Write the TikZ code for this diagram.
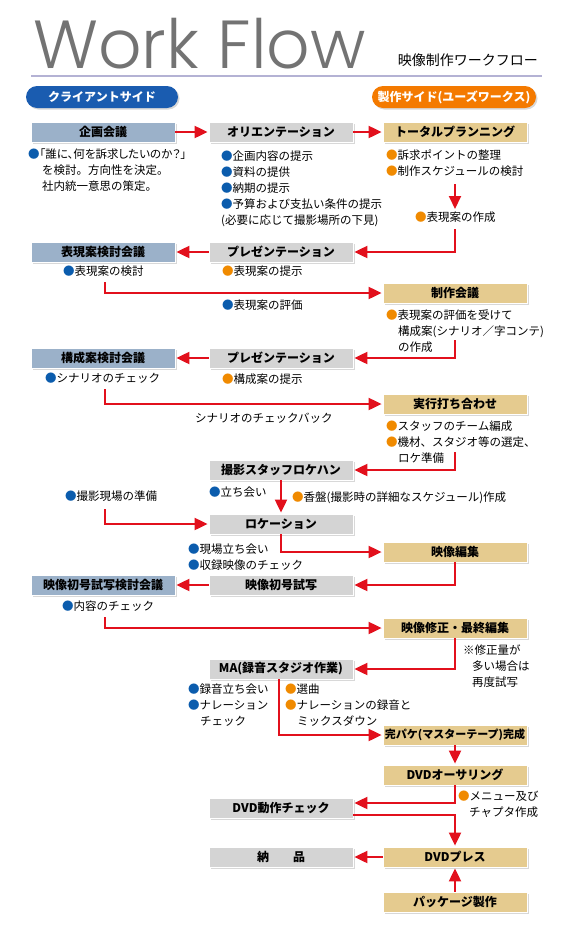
\documentclass[tikz,border=0pt]{standalone}
\usepackage{fontspec}
\setmainfont{Noto Sans CJK JP}
\newfontfamily\titlefont{Poppins Light}
\usetikzlibrary{arrows.meta,shadows}

\definecolor{clientfill}{HTML}{9BB1C9}
\definecolor{midfill}{HTML}{D4D4D4}
\definecolor{prodfill}{HTML}{E5CB8F}
\definecolor{flowred}{HTML}{E2101C}
\definecolor{cliblue}{HTML}{0B5CAD}
\definecolor{proorange}{HTML}{F08A00}
\definecolor{rulelav}{HTML}{B4B2D4}
\definecolor{pillblue}{HTML}{1A5CB0}
\definecolor{pillorange}{HTML}{F47A00}

\newcommand\clidot{{\color{cliblue}●}}
\newcommand\prodot{{\color{proorange}●}}

\tikzset{
  box/.style={minimum width=144pt, minimum height=20pt, inner sep=0pt,
    draw=white, line width=0.8pt, font=\bfseries\fontsize{12}{12}\selectfont,
    drop shadow={shadow xshift=1.5pt, shadow yshift=-1.5pt, fill=black!30}},
  clientbox/.style={box, fill=clientfill},
  midbox/.style={box, fill=midfill},
  prodbox/.style={box, fill=prodfill},
  note/.style={anchor=north west, inner sep=0pt, align=left,
    font=\fontsize{11.5}{16}\selectfont},
  pill/.style={rounded corners=11pt, minimum height=22pt, inner sep=0pt,
    text=white, font=\bfseries\fontsize{12}{12}\selectfont,
    drop shadow={shadow xshift=1.5pt, shadow yshift=-1.5pt, fill=black!30}},
  flow/.style={draw=flowred, line width=2pt, -{Triangle[length=13pt,width=12pt]}, shorten >=1pt}
}

\begin{document}
\begin{tikzpicture}[x=1pt,y=-1pt]
\useasboundingbox[fill=white] (0,0) rectangle (563,935);

% header
\node[anchor=base west, inner sep=0pt, text depth=0pt, text=black!55, font=\titlefont\fontsize{68}{68}\selectfont] (title) at (33,68) {Work Flow};
\node[anchor=base east, inner sep=0pt, font=\fontsize{14}{14}\selectfont] (subtitle) at (538,65) {映像制作ワークフロー};
\draw[rulelav, line width=1.5pt] (31,76) -- (542,76);
\node[pill, fill=pillblue, minimum width=152pt] (client) at (102,97) {クライアントサイド};
\node[pill, fill=pillorange, minimum width=164pt] (prod) at (454,97) {製作サイド(ユーズワークス)};

% boxes
\node[clientbox] (kikaku) at (103,132) {企画会議};
\node[midbox] (orient) at (281,132) {オリエンテーション};
\node[prodbox] (total) at (455,132) {トータルプランニング};
\node[clientbox] (hkentou) at (103,252) {表現案検討会議};
\node[midbox] (present1) at (281,252) {プレゼンテーション};
\node[prodbox] (seisaku) at (455,293) {制作会議};
\node[clientbox] (kkentou) at (103,358) {構成案検討会議};
\node[midbox] (present2) at (281,358) {プレゼンテーション};
\node[prodbox] (jikko) at (455,404) {実行打ち合わせ};
\node[midbox] (rokehan) at (281,470) {撮影スタッフロケハン};
\node[midbox] (location) at (281,524) {ロケーション};
\node[prodbox] (henshu) at (455,552) {映像編集};
\node[clientbox] (skentou) at (103,585) {映像初号試写検討会議};
\node[midbox] (shogo) at (281,585) {映像初号試写};
\node[prodbox] (shusei) at (455,628) {映像修正・最終編集};
\node[midbox] (ma) at (281,669) {MA(録音スタジオ作業)};
\node[prodbox, font=\bfseries\fontsize{11}{11}\selectfont] (kanpake) at (455,735) {完パケ(マスターテープ)完成};
\node[prodbox] (author) at (455,775) {DVDオーサリング};
\node[midbox] (dvdcheck) at (281,808) {DVD動作チェック};
\node[prodbox] (press) at (455,857) {DVDプレス};
\node[midbox] (nohin) at (281,857) {納　　品};
\node[prodbox] (package) at (455,902) {パッケージ製作};

% notes
\node[note] (kikakunote) at (28,149) {\clidot{\addfontfeature{RawFeature=+palt}「誰に、何を訴求したいのか？」}\\\hspace*{14pt}を検討。方向性を決定。\\\hspace*{14pt}社内統一意思の策定。};
\node[note] (orientnote) at (221,151) {\clidot 企画内容の提示\\\clidot 資料の提供\\\clidot 納期の提示\\\clidot 予算および支払い条件の提示\\(必要に応じて撮影場所の下見)};
\node[note] (totalnote) at (386,150) {\prodot 訴求ポイントの整理\\\prodot 制作スケジュールの検討};
\node[note] (hsakusei) at (415,212) {\prodot 表現案の作成};
\node[note] (hkentounote) at (63,266) {\clidot 表現案の検討};
\node[note] (hteiji) at (222,266) {\prodot 表現案の提示};
\node[note] (hhyoka) at (222,300) {\clidot 表現案の評価};
\node[note] (seisakunote) at (386,310) {\prodot 表現案の評価を受けて\\\hspace*{12pt}構成案(シナリオ／字コンテ)\\\hspace*{12pt}の作成};
\node[note] (kkentounote) at (45,373) {\clidot シナリオのチェック};
\node[note] (kteiji) at (222,374) {\prodot 構成案の提示};
\node[note] (checkback) at (195,413) {シナリオのチェックバック};
\node[note] (jikkonote) at (386,421) {\prodot スタッフのチーム編成\\\prodot 機材、スタジオ等の選定、\\\hspace*{12pt}ロケ準備};
\node[note] (tachiai) at (209,487) {\clidot 立ち会い};
\node[note] (kouban) at (292,492) {\prodot 香盤(撮影時の詳細なスケジュール)作成};
\node[note] (junbi) at (65,491) {\clidot 撮影現場の準備};
\node[note] (locnote) at (188,544) {\clidot 現場立ち会い\\\clidot 収録映像のチェック};
\node[note] (naiyou) at (62,601) {\clidot 内容のチェック};
\node[note] (shuseinote) at (463,645) {※修正量が\\\hspace*{9pt}多い場合は\\\hspace*{9pt}再度試写};
\node[note] (manote) at (188,684) {\clidot 録音立ち会い\\\clidot ナレーション\\\hspace*{12pt}チェック};
\node[note] (mixnote) at (285,684) {\prodot 選曲\\\prodot ナレーションの録音と\\\hspace*{12pt}ミックスダウン};
\node[note] (menu) at (458,791) {\prodot メニュー及び\\\hspace*{11pt}チャプタ作成};

% connectors
\coordinate (tpa) at (455,184);
\coordinate (tpb) at (455,210);
\coordinate (hsa) at (455,229);
\coordinate (hka) at (105,282);
\coordinate (ssa) at (455,340);
\coordinate (kka) at (105,389);
\coordinate (jka) at (455,452);
\coordinate (lca) at (105,509);
\coordinate (ska) at (105,617);

\draw[flow] (kikaku) -- (orient);
\draw[flow] (orient) -- (total);
\draw[flow] (tpa) -- (tpb);
\draw[flow] (hsa) |- (present1.east);
\draw[flow] (present1) -- (hkentou);
\draw[flow] (hka) |- (seisaku.west);
\draw[flow] (ssa) |- (present2.east);
\draw[flow] (present2) -- (kkentou);
\draw[flow] (kka) |- (jikko.west);
\draw[flow] (jka) |- (rokehan.east);
\draw[flow] (rokehan) -- (location);
\draw[flow] (lca) |- (location.west);
\draw[flow] (location.south) |- (henshu.west);
\draw[flow] (henshu.south) |- (shogo.east);
\draw[flow] (shogo) -- (skentou);
\draw[flow] (ska) |- (shusei.west);
\draw[flow] (shusei.south) |- (ma.east);
\draw[flow] ([xshift=-2pt]ma.south) |- (kanpake.west);
\draw[flow] (kanpake) -- (author);
\draw[flow] (author.south) |- ([yshift=5pt]dvdcheck.east);
\draw[flow] ([yshift=-7pt]dvdcheck.east) -| (press.north);
\draw[flow] (press) -- (nohin);
\draw[flow] (package) -- (press);

\end{tikzpicture}
\end{document}
